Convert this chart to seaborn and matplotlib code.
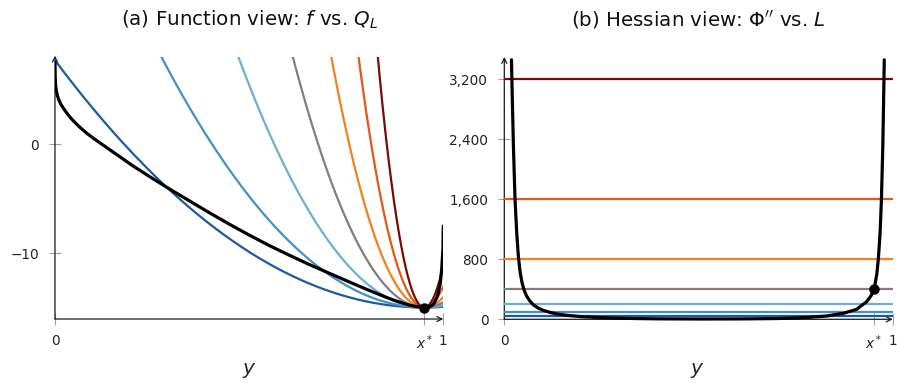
import numpy as np
import pandas as pd
import matplotlib
matplotlib.use("Agg")
import matplotlib.pyplot as plt
import seaborn as sns

# ---------------- data ----------------
L_values = [50, 100, 200, 400, 800, 1600, 3200]
L_colors = ["#1a5aa5", "#4290c8", "#6baed6", "#7f7f7f", "#f4801f", "#e0581a", "#7a0a0a"]

x_star = 0.951
f_star = -14.95
hess_at_x_star = 400

# black curve f(y), panel (a)
f_y = [0.0, 0.0005, 0.0015, 0.003, 0.006, 0.01, 0.015, 0.022, 0.03, 0.04,
       0.052, 0.066, 0.082, 0.1, 0.116, 0.2, 0.25, 0.3, 0.35, 0.4, 0.45,
       0.5, 0.55, 0.6, 0.65, 0.7, 0.75, 0.8, 0.85, 0.875, 0.9, 0.915, 0.93,
       0.94, 0.951, 0.965, 0.975, 0.985, 0.992, 0.996, 0.999, 1.0]
f_vals = [7.5, 6.2, 5.4, 4.95, 4.45, 4.02, 3.65, 3.25, 2.85, 2.4,
          1.95, 1.47, 0.98, 0.5, 0.1, -1.98, -3.12, -4.22, -5.28, -6.33, -7.35,
          -8.32, -9.25, -10.11, -10.94, -11.72, -12.49, -13.25, -13.975, -14.31, -14.6, -14.75, -14.86,
          -14.91, -14.95, -14.88, -14.65, -13.9, -12.8, -11.4, -9.6, -7.5]

# black curve Phi''(y), panel (b)
hess_y = [0.0185, 0.0195, 0.0235, 0.0276, 0.032, 0.0365, 0.041, 0.046, 0.051,
          0.057, 0.065, 0.075, 0.088, 0.1, 0.12, 0.14, 0.16, 0.2, 0.25, 0.3,
          0.35, 0.4, 0.5, 0.6, 0.65, 0.7, 0.75, 0.787, 0.83, 0.873, 0.907,
          0.933, 0.945, 0.951, 0.955, 0.959, 0.963, 0.9675, 0.971, 0.9745,
          0.9775, 0.9783]
hess_vals = [3460, 3200, 2300, 1600, 1150, 820, 620, 480, 390,
             315, 250, 192, 148, 120, 88, 68, 54, 35, 22, 14,
             9, 6, 4, 5, 7, 10, 18, 27, 44, 80, 133,
             235, 320, 400, 480, 600, 800, 1150, 1600, 2300,
             3200, 3460]

x_tick_vals = [0, x_star, 1]
x_tick_labels = ["0", "$x^*$", "1"]
left_yticks = [-10, 0]
right_yticks = [0, 800, 1600, 2400, 3200]

# ---------------- style ----------------
sns.set_theme(style="white")
plt.rcParams["font.family"] = ["DejaVu Sans"]
plt.rcParams["mathtext.fontset"] = "dejavusans"

W, H = 897, 383
fig = plt.figure(figsize=(W / 100, H / 100), dpi=100)

def frac_box(x0, x1, ytop, ybot):
    return [x0 / W, 1 - ybot / H, (x1 - x0) / W, (ybot - ytop) / H]

ax1 = fig.add_axes(frac_box(55, 443.3, 57, 319))
ax2 = fig.add_axes(frac_box(504.3, 892.7, 58.3, 319.3))

# ---------------- panel (a) ----------------
grid = np.linspace(0, 1, 600)
rows = []
for L in L_values:
    q = f_star + 0.5 * L * (grid - x_star) ** 2
    rows.append(pd.DataFrame({"y": grid, "Q": q, "L": L}))
qdf = pd.concat(rows, ignore_index=True)
sns.lineplot(data=qdf, x="y", y="Q", hue="L", palette=dict(zip(L_values, L_colors)),
             legend=False, estimator=None, sort=False, linewidth=1.6, ax=ax1)
sns.lineplot(x=f_y, y=f_vals, color="black", linewidth=2.3, estimator=None,
             sort=False, ax=ax1, zorder=4)
ax1.plot([x_star], [f_star], "o", color="black", ms=6.5, zorder=5)
ax1.set_xlim(0, 1)
ax1.set_ylim(-16, 7.96)
ax1.set_yticks(left_yticks)
ax1.set_yticklabels(["\u221210", "0"])

# ---------------- panel (b) ----------------
for L, c in zip(L_values, L_colors):
    ax2.axhline(L, color=c, linewidth=1.6, zorder=2)
sns.lineplot(x=hess_y, y=hess_vals, color="black", linewidth=2.3, estimator=None,
             sort=False, ax=ax2, zorder=4, clip_on=False)
ax2.plot([x_star], [hess_at_x_star], "o", color="black", ms=6.5, zorder=5)
ax2.set_xlim(0, 1)
ax2.set_ylim(0, 3480)
ax2.set_yticks(right_yticks)
ax2.set_yticklabels([f"{v:,}" for v in right_yticks])

for ax in (ax1, ax2):
    for s in ax.spines.values():
        s.set_visible(False)
    ax.set_xticks(x_tick_vals)
    ax.set_xticklabels(x_tick_labels)
    ax.tick_params(axis="both", which="major", direction="inout", length=9,
                   width=0.8, color="#a0a0a0", labelsize=9.8, labelcolor="#222222",
                   bottom=True, left=True)
    ax.tick_params(axis="x", pad=6)
    ax.tick_params(axis="y", pad=7)
    ax.set_xlabel("")
    ax.set_ylabel("")
    ax.grid(False)
    ax.patch.set_alpha(0)
    arrow = dict(arrowstyle="->", color="#1a1a1a", lw=0.9, shrinkA=0, shrinkB=0,
                 mutation_scale=9)
    ax.annotate("", xy=(1, 0), xytext=(0, 0), xycoords="axes fraction",
                textcoords="axes fraction", arrowprops=arrow, zorder=1)
    ax.annotate("", xy=(0, 1.005), xytext=(0, 0), xycoords="axes fraction",
                textcoords="axes fraction", arrowprops=arrow, zorder=1)

# titles and axis labels
fig.text(249.5 / W, 1 - 20 / H, r"(a) Function view: $f$ vs. $Q_L$",
         ha="center", va="center", fontsize=14.3, color="#111111")
fig.text(698 / W, 1 - 20 / H, r"(b) Hessian view: $\Phi''$ vs. $L$",
         ha="center", va="center", fontsize=14.3, color="#111111")
fig.text(249 / W, 1 - 370 / H, "$y$", ha="center", va="center", fontsize=14.5)
fig.text(697 / W, 1 - 370 / H, "$y$", ha="center", va="center", fontsize=14.5)

fig.savefig("out.png", dpi=100)
